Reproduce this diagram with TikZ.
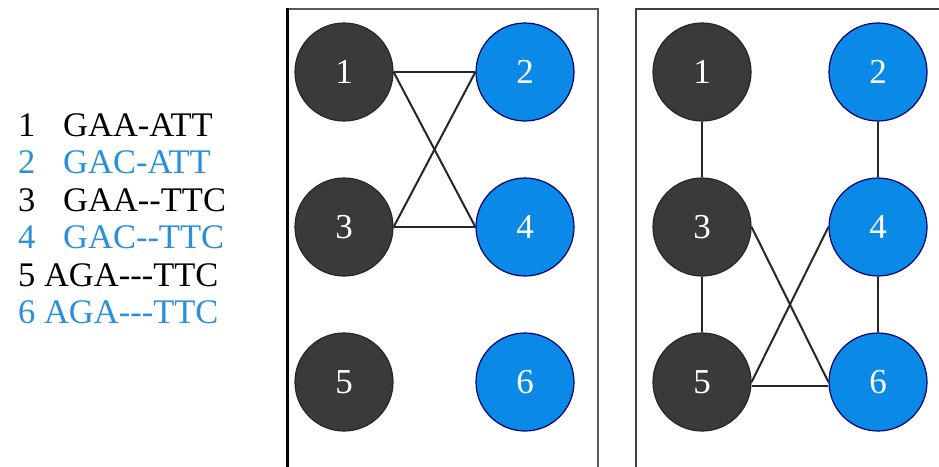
\documentclass[tikz,border=0pt]{standalone}
\usepackage{fontspec}
\setmainfont{Liberation Serif}
\definecolor{dk}{HTML}{3A3A3A}
\definecolor{bl}{HTML}{0B89E6}
\definecolor{bltxt}{HTML}{2A8FDC}
\begin{document}
\begin{tikzpicture}[x=1pt,y=-1pt,
  dnode/.style={circle,fill=dk,draw=black!85,line width=1.2pt,minimum size=98pt,inner sep=0pt,text=white,font=\fontsize{35}{35}\selectfont},
  bnode/.style={dnode,fill=bl,draw=black!55!blue},
  edge/.style={line width=2pt,draw=black!85},
  frame/.style={line width=1.6pt,draw=black!65},
  seq/.style={anchor=base west,font=\fontsize{34.5}{34.5}\selectfont,inner sep=0pt}]
\useasboundingbox (0,0) rectangle (939,466);
\fill[white] (0,0) rectangle (939,466);
\begin{scope}
\clip (0,0) rectangle (939,466);
% frames
\draw[frame] (287,9) rectangle (598,490);
\draw[line width=3pt,black] (287,8) -- (287,490);
\draw[frame,draw=black!75] (636,9) rectangle (960,490);
\end{scope}
% sequence list
\node[seq] (s1) at (18,136) {\makebox[45pt][l]{1}GAA-ATT};
\node[seq,text=bltxt] (s2) at (18,173.5) {\makebox[45pt][l]{2}GAC-ATT};
\node[seq] (s3) at (18,211) {\makebox[45pt][l]{3}GAA-\kern0pt-TTC};
\node[seq,text=bltxt] (s4) at (18,248.5) {\makebox[45pt][l]{4}GAC-\kern0pt-TTC};
\node[seq] (s5) at (18,286) {5 AGA-\kern0pt-\kern0pt-TTC};
\node[seq,text=bltxt] (s6) at (18,323.5) {6 AGA-\kern0pt-\kern0pt-TTC};
% panel 1
\node[dnode] (a1) at (344,72) {1};
\node[bnode] (a2) at (525,72) {2};
\node[dnode] (a3) at (344,227) {3};
\node[bnode] (a4) at (525,227) {4};
\node[dnode] (a5) at (344,382) {5};
\node[bnode] (a6) at (525,382) {6};
\draw[edge] (a1.east) -- (a2.west);
\draw[edge] (a1.east) -- (a4.west);
\draw[edge] (a3.east) -- (a2.west);
\draw[edge] (a3.east) -- (a4.west);
% panel 2
\node[dnode] (b1) at (702,72) {1};
\node[bnode] (b2) at (878,72) {2};
\node[dnode] (b3) at (702,227) {3};
\node[bnode] (b4) at (878,227) {4};
\node[dnode] (b5) at (702,382) {5};
\node[bnode] (b6) at (878,382) {6};
\draw[edge] (b1.south) -- (b3.north);
\draw[edge] (b2.south) -- (b4.north);
\draw[edge] (b3.south) -- (b5.north);
\draw[edge] (b4.south) -- (b6.north);
\draw[edge] (b3.east) -- (b6.west);
\draw[edge] (b5.east) -- (b4.west);
\draw[edge] ([yshift=-4pt]b5.east) -- ([yshift=-4pt]b6.west);
\end{tikzpicture}
\end{document}
